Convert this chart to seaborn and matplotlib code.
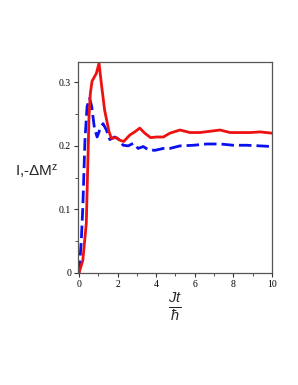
import numpy as np
import pandas as pd
import matplotlib
matplotlib.use('Agg')
import matplotlib.pyplot as plt
import seaborn as sns

# values
t_red = [0, 0.2, 0.38, 0.52, 0.59, 0.68, 0.9, 1.04, 1.16, 1.33, 1.56, 1.68, 1.94, 2.11,
         2.32, 2.63, 2.89, 3.15, 3.41, 3.71, 4.02, 4.37, 4.71, 5.23, 5.75, 6.27, 6.79,
         7.31, 7.83, 8.35, 8.87, 9.39, 10]
i_red = [0, 0.02, 0.078, 0.246, 0.283, 0.302, 0.314, 0.33, 0.298, 0.256, 0.222, 0.212,
         0.213, 0.209, 0.207, 0.217, 0.222, 0.228, 0.22, 0.213, 0.214, 0.214, 0.22,
         0.225, 0.221, 0.221, 0.223, 0.225, 0.221, 0.221, 0.221, 0.222, 0.22]

t_blue = [0, 0.12, 0.2, 0.31, 0.42, 0.55, 0.66, 0.8, 0.94, 1.11, 1.25, 1.42, 1.6, 1.85,
          2.03, 2.29, 2.55, 2.81, 3.07, 3.33, 3.59, 3.93, 4.37, 4.71, 5.23, 5.93, 6.62,
          7.31, 8.0, 8.7, 9.39, 10]
m_blue = [0, 0.05, 0.104, 0.209, 0.262, 0.275, 0.262, 0.228, 0.214, 0.228, 0.235, 0.225,
          0.21, 0.214, 0.211, 0.201, 0.2, 0.204, 0.196, 0.199, 0.194, 0.193, 0.196, 0.196,
          0.2, 0.201, 0.203, 0.203, 0.201, 0.201, 0.2, 0.199]

x_ticks = [0, 2, 4, 6, 8, 10]
y_ticks = [0, 0.1, 0.2, 0.3]

sns.set_style('white')
plt.rcParams['mathtext.fontset'] = 'custom'
plt.rcParams['mathtext.rm'] = 'Liberation Sans'
plt.rcParams['mathtext.it'] = 'Liberation Sans:italic'

fig = plt.figure(figsize=(2.98, 3.85), dpi=100)
ax = fig.add_axes([78 / 298, 1 - 273 / 385, 194 / 298, 211 / 385])

red = pd.DataFrame({'t': t_red, 'v': i_red})
blue = pd.DataFrame({'t': t_blue, 'v': m_blue})
sns.lineplot(data=blue, x='t', y='v', ax=ax, color='#0a10ee', lw=2.0,
             dashes=False, linestyle=(0, (4.5, 1.8)))
sns.lineplot(data=red, x='t', y='v', ax=ax, color='#ee1111', lw=2.0)

ax.set_xlim(-0.05, 10)
ax.set_ylim(0, 0.332)
ax.set_xticks(x_ticks)
ax.set_xticklabels([str(v) for v in x_ticks])
ax.set_yticks(y_ticks)
ax.set_yticklabels(['0', '0.1', '0.2', '0.3'])
ax.set_xticks([1, 3, 5, 7, 9], minor=True)
ax.set_yticks([0.05, 0.15, 0.25], minor=True)
ax.tick_params(which='major', direction='out', length=3, width=0.8, labelsize=7,
               pad=2, bottom=True, left=True, colors='#333333')
ax.tick_params(which='minor', direction='out', length=2, width=0.6,
               bottom=True, left=True, colors='#333333')
for lab in ax.get_xticklabels() + ax.get_yticklabels():
    lab.set_fontfamily('Liberation Serif')
    lab.set_color('black')
for s in ax.spines.values():
    s.set_color('#555555')
    s.set_linewidth(0.9)

ax.set_xlabel('')
ax.set_ylabel('')
fig.text(37 / 298, 1 - 171 / 385, 'I,-ΔM$^{\\mathrm{z}}$', fontsize=11,
         ha='center', va='center', family='Liberation Sans')
fig.text(175 / 298, 1 - 307 / 385, r'$\frac{Jt}{\hbar}$', fontsize=15,
         ha='center', va='center')

fig.savefig('out.png', dpi=100)
